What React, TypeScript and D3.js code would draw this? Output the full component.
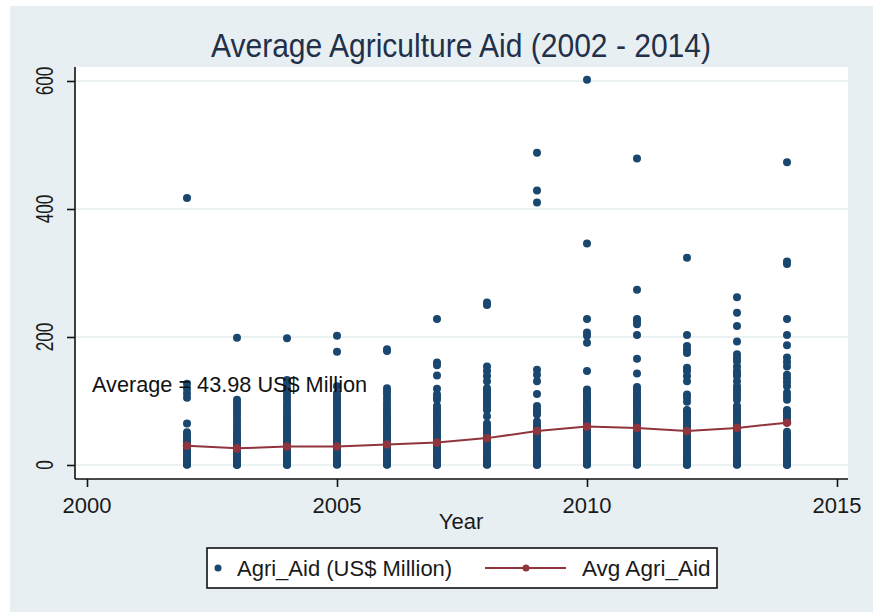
import React, { useEffect, useRef } from 'react';
import * as d3 from 'd3';

// Agricultural aid by recipient, US$ million
const years = [2002, 2003, 2004, 2005, 2006, 2007, 2008, 2009, 2010, 2011, 2012, 2013, 2014];

const aid2002 = [0.2, 0.8, 1.5, 2.4, 3.6, 5, 6.8, 9, 11.5, 14, 17, 20.5, 24, 28, 32, 36, 40, 44, 48, 51, 65, 105, 112, 119, 127, 417];
const aid2003 = [0.1, 0.6, 1.3, 2.2, 3.4, 4.9, 6.5, 8.6, 11, 14, 17.5, 21, 25, 29, 33, 37, 41, 45, 49, 53, 58, 63, 68, 73, 79, 83, 88, 93, 98, 102, 199];
const aid2004 = [0.1, 0.7, 1.6, 2.8, 4.2, 6, 8, 10.5, 13, 16, 19.5, 23, 27, 31, 35, 39, 43, 47, 51, 55, 59, 63, 67, 72, 76, 81, 86, 91, 96, 102, 107, 113, 120, 127, 133, 198];
const aid2005 = [0.3, 1, 2, 3.2, 4.8, 6.5, 8.5, 11, 14, 17, 20.5, 24, 28, 32, 36, 40, 44, 48, 52, 56, 60, 64, 68, 72, 76, 80, 84, 88, 92, 96, 100, 104, 108, 112, 123, 177, 202];
const aid2006 = [0.2, 0.9, 1.8, 3, 4.5, 6.2, 8.3, 10.7, 13.4, 16.5, 20, 23.5, 27, 31, 35, 39, 43, 47, 51, 55, 59, 63, 67, 71, 75, 79, 84, 88, 93, 98, 104, 110, 115, 120, 178, 181];
const aid2007 = [0.1, 0.8, 1.7, 2.9, 4.3, 6, 8, 10.4, 13, 16, 19.5, 23, 27, 31, 35, 39, 43, 47, 51, 55, 59, 63, 67, 71, 75, 79, 83, 87, 92, 102, 106, 110, 119, 140, 156, 160, 228];
const aid2008 = [0.2, 0.9, 1.9, 3.1, 4.6, 6.4, 8.5, 11, 13.8, 17, 20.5, 24, 28, 32, 36, 40, 44, 48, 52, 56, 60, 65, 76, 86, 90, 94, 98, 102, 106, 110, 114, 117, 120, 131, 139, 147, 154, 250, 254];
const aid2009 = [0.1, 0.7, 1.5, 2.6, 4, 5.7, 7.8, 10.2, 13, 16, 19.5, 23, 27, 31, 35, 39, 43, 47, 51, 55, 59, 63, 68, 79, 83, 87, 92, 111, 131, 141, 149, 410, 429, 488];
const aid2010 = [0.3, 1, 2, 3.3, 4.9, 6.8, 9, 11.6, 14.5, 17.8, 21.4, 25, 29, 33, 37, 41, 45, 49, 53, 57, 61, 65, 69, 73, 77, 81, 85, 89, 93, 97, 102, 106, 110, 114, 118, 147, 191, 202, 207, 228, 346, 602];
const aid2011 = [0.2, 0.8, 1.7, 2.9, 4.4, 6.2, 8.3, 10.8, 13.6, 16.8, 20.3, 24, 28, 32, 36, 40, 44, 48, 52, 56, 60, 64, 68, 72, 76, 80, 84, 88, 92, 96, 100, 104, 108, 112, 117, 122, 143, 166, 203, 220, 224, 228, 274, 479];
const aid2012 = [0.1, 0.6, 1.4, 2.5, 3.9, 5.6, 7.6, 10, 12.8, 16, 19.5, 23, 27, 31, 35, 39, 43, 47, 51, 55, 59, 63, 67, 71, 75, 79, 83, 86, 99, 105, 110, 131, 139, 147, 152, 175, 180, 186, 203, 324];
const aid2013 = [0.2, 0.9, 1.8, 3, 4.5, 6.3, 8.4, 10.9, 13.7, 16.9, 20.4, 24, 28, 32, 36, 40, 44, 48, 52, 56, 60, 64, 68, 72, 76, 80, 84, 88, 92, 102, 108, 113, 118, 123, 131, 139, 143, 147, 154, 162, 167, 173, 193, 217, 238, 262];
const aid2014 = [0.1, 0.7, 1.6, 2.7, 4.1, 5.8, 7.9, 10.3, 13.1, 16.3, 19.8, 23.5, 27.5, 31.5, 35.5, 39.5, 43.5, 47.5, 52, 71, 75, 79, 83, 86, 102, 108, 113, 123, 129, 135, 141, 154, 161, 168, 187, 203, 228, 314, 318, 473];

const aidByYear = [aid2002, aid2003, aid2004, aid2005, aid2006, aid2007, aid2008, aid2009, aid2010, aid2011, aid2012, aid2013, aid2014];

// yearly mean shown by the red line
const avgAid = [30, 26, 29, 29, 32, 35, 42, 53, 60, 58, 53, 58, 66];

const xTicks = [2000, 2005, 2010, 2015];
const yTicks = [0, 200, 400, 600];

const overallAvg = 43.98;

const NAVY = '#1a476f';
const MAROON = '#90353b';
const BG = '#e8eff2';
const FONT = '"Liberation Sans", Arial, sans-serif';

const App: React.FC = () => {
  const svgRef = useRef<SVGSVGElement>(null);
  const width = 873;
  const height = 612;

  useEffect(() => {
    if (!svgRef.current) return;
    const svg = d3.select(svgRef.current);
    svg.selectAll('*').remove();

    const plot = { left: 75, right: 848, top: 67, bottom: 479 };

    const x = d3.scaleLinear().domain([2000, 2015]).range([87, 837]);
    const y = d3.scaleLinear().domain([0, 600]).range([465, 81]);

    // outer graph region
    svg.append('rect').attr('width', width).attr('height', height).attr('fill', '#fff');
    svg.append('rect')
      .attr('x', 10).attr('y', 6)
      .attr('width', width - 10).attr('height', height - 6)
      .attr('fill', BG);

    // plot region
    svg.append('rect')
      .attr('x', plot.left).attr('y', plot.top)
      .attr('width', plot.right - plot.left).attr('height', plot.bottom - plot.top)
      .attr('fill', '#fff');

    // grid
    svg.append('g')
      .selectAll('line')
      .data(yTicks)
      .enter()
      .append('line')
      .attr('x1', plot.left).attr('x2', plot.right)
      .attr('y1', d => y(d)).attr('y2', d => y(d))
      .attr('stroke', '#e4eef1')
      .attr('stroke-width', 1.5);

    // title
    svg.append('text')
      .attr('transform', 'translate(461,57) scale(0.91,1)')
      .attr('text-anchor', 'middle')
      .style('font-family', FONT)
      .style('font-size', '33px')
      .style('fill', '#22304a')
      .text('Average Agriculture Aid (2002 - 2014)');

    // scatter points
    const points = years.flatMap((yr, i) => aidByYear[i].map(v => ({ yr, v })));
    svg.append('g')
      .selectAll('circle')
      .data(points)
      .enter()
      .append('circle')
      .attr('cx', d => x(d.yr))
      .attr('cy', d => y(d.v))
      .attr('r', 4)
      .attr('fill', NAVY);

    // average line
    const avgData = years.map((yr, i) => ({ yr, v: avgAid[i] }));
    const line = d3.line<{ yr: number; v: number }>()
      .x(d => x(d.yr))
      .y(d => y(d.v));
    svg.append('path')
      .datum(avgData)
      .attr('d', line)
      .attr('fill', 'none')
      .attr('stroke', MAROON)
      .attr('stroke-width', 2);
    svg.append('g')
      .selectAll('circle')
      .data(avgData)
      .enter()
      .append('circle')
      .attr('cx', d => x(d.yr))
      .attr('cy', d => y(d.v))
      .attr('r', 4.3)
      .attr('fill', MAROON);

    // annotation
    svg.append('text')
      .attr('x', x(2000.1))
      .attr('y', y(114))
      .style('font-family', FONT)
      .style('font-size', '21.7px')
      .style('fill', '#111')
      .text(`Average = ${overallAvg.toFixed(2)} US$ Million`);

    // axes
    const axisY = svg.append('g')
      .attr('transform', `translate(${plot.left},0)`)
      .call(d3.axisLeft(y).tickValues(yTicks).tickSize(8).tickFormat(() => ''));
    axisY.select('.domain').attr('d', `M0,${plot.top}V${plot.bottom}`);
    const axisX = svg.append('g')
      .attr('transform', `translate(0,${plot.bottom})`)
      .call(d3.axisBottom(x).tickValues(xTicks).tickSize(8).tickFormat(() => ''));
    axisX.select('.domain').attr('d', `M${plot.left},0H${plot.right}`);
    svg.selectAll('.domain, .tick line')
      .attr('stroke', '#111')
      .attr('stroke-width', 1.6);

    svg.append('g')
      .selectAll('text')
      .data(yTicks)
      .enter()
      .append('text')
      .attr('transform', d => `translate(53,${y(d)}) rotate(-90) scale(0.75,1)`)
      .attr('text-anchor', 'middle')
      .style('font-family', FONT)
      .style('font-size', '23px')
      .style('fill', '#1a1a1a')
      .text(d => d);

    svg.append('g')
      .selectAll('text')
      .data(xTicks)
      .enter()
      .append('text')
      .attr('x', d => x(d))
      .attr('y', 513)
      .attr('text-anchor', 'middle')
      .style('font-family', FONT)
      .style('font-size', '22px')
      .style('fill', '#1a1a1a')
      .text(d => d);

    svg.append('text')
      .attr('x', 461)
      .attr('y', 529)
      .attr('text-anchor', 'middle')
      .style('font-family', FONT)
      .style('font-size', '22px')
      .style('fill', '#1a1a1a')
      .text('Year');

    // legend
    const lg = svg.append('g');
    lg.append('rect')
      .attr('x', 207).attr('y', 548)
      .attr('width', 510).attr('height', 40)
      .attr('fill', '#fff')
      .attr('stroke', '#111')
      .attr('stroke-width', 1.6);
    lg.append('circle').attr('cx', 218).attr('cy', 568).attr('r', 3.5).attr('fill', NAVY);
    lg.append('text')
      .attr('x', 237).attr('y', 576)
      .style('font-family', FONT)
      .style('font-size', '22px')
      .style('fill', '#1a1a1a')
      .text('Agri_Aid (US$ Million)');
    lg.append('line')
      .attr('x1', 485).attr('x2', 566).attr('y1', 568).attr('y2', 568)
      .attr('stroke', MAROON).attr('stroke-width', 2);
    lg.append('circle').attr('cx', 526).attr('cy', 568).attr('r', 3.5).attr('fill', MAROON);
    lg.append('text')
      .attr('x', 582).attr('y', 576)
      .style('font-family', FONT)
      .style('font-size', '22.5px')
      .style('fill', '#1a1a1a')
      .text('Avg Agri_Aid');
  }, []);

  return (
    <svg
      ref={svgRef}
      width={width}
      height={height}
      style={{ position: 'absolute', left: 0, top: 0, display: 'block' }}
    />
  );
};

export default App;
